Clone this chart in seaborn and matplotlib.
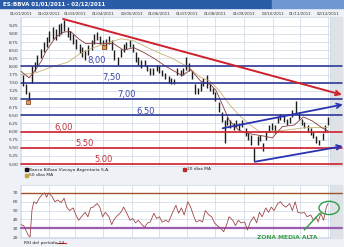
import numpy as np
import pandas as pd
import matplotlib
matplotlib.use("Agg")
import matplotlib.pyplot as plt
import seaborn as sns
from matplotlib.patches import Rectangle, Ellipse

# ---------------- data ----------------
days = [2, 5, 9, 12, 15, 18, 22, 25, 28, 31, 35, 38, 41, 44, 47, 51, 54, 57, 60, 64,
        67, 70, 73, 77, 80, 83, 86, 89, 93, 96, 99, 102, 106, 109, 112, 115, 119, 122, 125, 128,
        131, 135, 138, 141, 144, 148, 151, 154, 157, 161, 164, 167, 170, 174, 177, 180, 183, 186, 190, 193,
        196, 199, 203, 206, 209, 212, 216, 219, 222, 225, 228, 232, 235, 238, 241, 245, 248, 251, 254, 258,
        261, 264, 267, 271, 274, 277, 280, 283, 287, 290, 293, 296, 300, 303, 306, 309, 313, 316, 319, 322,
        325, 329, 332, 335]
lows = [7.40, 7.15, 6.95, 7.50, 7.85, 8.05, 8.25, 8.45, 8.60, 8.75, 8.85, 8.80, 8.95, 9.00, 9.10, 8.90, 8.80, 8.70, 8.55, 8.40,
        8.30, 8.20, 8.35, 8.50, 8.70, 8.80, 8.70, 8.55, 8.55, 8.70, 8.50, 8.20, 8.05, 8.30, 8.45, 8.55, 8.60, 8.45, 8.15, 8.05,
        7.95, 8.00, 7.85, 7.75, 7.75, 7.85, 7.80, 7.70, 7.60, 7.50, 7.45, 7.45, 7.75, 7.70, 7.75, 7.90, 7.85, 7.60, 7.15, 7.15,
        7.25, 7.40, 7.35, 7.25, 7.15, 6.95, 6.60, 6.30, 5.65, 6.20, 6.10, 6.05, 6.15, 6.05, 6.15, 5.85, 5.75, 5.60, 5.10, 5.60,
        5.70, 5.40, 5.75, 6.00, 6.05, 5.95, 6.25, 6.35, 6.30, 6.20, 6.25, 6.45, 6.55, 6.40, 6.20, 6.10, 6.00, 5.90, 5.80, 5.65,
        5.60, 5.75, 6.00, 6.20]
highs = [7.75, 7.45, 7.20, 8.00, 8.15, 8.35, 8.55, 8.75, 8.90, 9.10, 9.20, 9.15, 9.30, 9.35, 9.42, 9.20, 9.10, 9.00, 8.85, 8.70,
         8.60, 8.50, 8.65, 8.80, 9.00, 9.05, 8.95, 8.80, 8.85, 8.95, 8.80, 8.50, 8.30, 8.55, 8.70, 8.75, 8.80, 8.70, 8.45, 8.30,
         8.20, 8.20, 8.05, 7.95, 7.95, 8.05, 8.00, 7.90, 7.80, 7.70, 7.65, 7.60, 7.95, 7.90, 7.95, 8.30, 8.10, 7.85, 7.45, 7.35,
         7.50, 7.65, 7.75, 7.45, 7.35, 7.20, 6.90, 6.60, 6.35, 6.45, 6.35, 6.25, 6.35, 6.25, 6.35, 6.10, 5.95, 5.90, 5.50, 5.85,
         5.90, 5.65, 6.00, 6.20, 6.25, 6.20, 6.45, 6.55, 6.50, 6.40, 6.45, 6.65, 6.95, 6.60, 6.40, 6.30, 6.20, 6.10, 6.00, 5.85,
         5.75, 5.95, 6.20, 6.45]

ma20_days = [0, 9, 16, 22, 27, 33, 38, 46, 54, 63, 71, 79, 87, 101, 112, 123, 134, 145, 156, 165,
             176, 185, 196, 207, 213, 220, 227, 237, 246, 256, 267, 274, 285, 298, 308, 318, 329, 335]
ma20_vals = [7.85, 7.65, 7.90, 8.15, 8.45, 8.70, 8.90, 9.05, 9.08, 8.85, 8.70, 8.72, 8.70, 8.70, 8.50, 8.58, 8.43, 8.25, 8.04, 7.89,
             7.72, 7.90, 7.55, 7.44, 7.25, 6.80, 6.35, 6.05, 5.95, 5.90, 5.85, 5.80, 6.15, 6.20, 6.45, 6.32, 6.10, 6.02]

ma50_days = [0, 16, 33, 51, 65, 79, 95, 109, 123, 138, 152, 165, 184, 195, 206, 217, 227, 238, 250, 260,
             272, 285, 299, 310, 321, 335]
ma50_vals = [7.75, 7.80, 7.98, 8.13, 8.40, 8.58, 8.73, 8.85, 8.79, 8.58, 8.40, 8.25, 7.95, 7.68, 7.55, 7.23, 6.84, 6.50, 6.20, 6.00,
             6.00, 6.03, 6.08, 6.12, 6.12, 6.12]

rsi_days = [0, 3, 8, 10, 12, 14, 17, 20, 23, 26, 28, 30, 34, 37, 40, 44, 47, 50, 53, 57,
            60, 63, 66, 70, 73, 76, 79, 83, 86, 89, 92, 96, 99, 101, 104, 109, 112, 115, 119, 122,
            125, 128, 132, 135, 138, 141, 145, 148, 151, 154, 158, 161, 165, 169, 172, 175, 178, 182, 185, 188,
            191, 195, 198, 201, 205, 208, 211, 214, 218, 221, 224, 227, 231, 234, 237, 240, 244, 247, 250, 254,
            257, 260, 263, 267, 270, 273, 276, 280, 283, 286, 289, 293, 296, 299, 302, 306, 309, 312, 316, 319,
            322, 324, 327, 330, 333, 335]
rsi_vals = [34, 33, 22, 20, 50, 60, 58, 64, 68, 70, 65, 70, 66, 60, 62, 59, 64, 54, 50, 53,
            45, 39, 43, 48, 43, 53, 54, 58, 54, 43, 48, 43, 34, 39, 43, 48, 54, 48, 39, 41,
            36, 39, 34, 31, 36, 37, 47, 41, 43, 37, 39, 37, 47, 56, 47, 53, 45, 60, 54, 45,
            37, 39, 37, 50, 45, 43, 36, 33, 30, 26, 33, 43, 39, 33, 39, 36, 37, 28, 37, 43,
            36, 48, 43, 53, 48, 54, 50, 58, 60, 56, 54, 58, 50, 60, 48, 47, 48, 43, 45, 39,
            43, 37, 47, 39, 54, 58]

resist_levels = [8.00, 7.50, 7.00, 6.50]
resist_labels = ["8,00", "7,50", "7,00", "6.50"]
support_levels = [6.00, 5.50, 5.00]
support_labels = ["6,00", "5.50", "5.00"]

month_days = [0, 31, 59, 90, 121, 151, 181, 212, 243, 275, 304, 335]
month_labels = ["01/01/2011", "01/02/2011", "01/03/2011", "01/04/2011", "02/05/2011", "01/06/2011",
                "01/07/2011", "01/08/2011", "01/09/2011", "03/10/2011", "01/11/2011", "02/12/2011"]
price_ticks = [5.00, 5.25, 5.50, 5.75, 6.00, 6.25, 6.50, 6.75, 7.00, 7.25, 7.50, 7.75,
               8.00, 8.25, 8.50, 8.75, 9.00, 9.25]
rsi_ticks = [20, 30, 40, 50, 60, 70]

event_days = [8, 91]
event_prices = [6.91, 8.60]

# ---------------- style ----------------
sns.set_theme(style="whitegrid")
plt.rcParams["font.family"] = ["DejaVu Sans"]

BLUE = "#1f2a8f"
BLUE_TXT = "#3a46a8"
RED = "#d0202c"
RED_TXT = "#c4303a"
GRID = "#cbd7e6"

fig = plt.figure(figsize=(3.44, 2.47), dpi=100, facecolor="#eef1f5")

# title bar
fig.patches.append(Rectangle((0, 1 - 8 / 247), 272 / 344, 8 / 247, transform=fig.transFigure,
                             color="#2b5ca8", zorder=-2))
fig.patches.append(Rectangle((272 / 344, 1 - 8 / 247), 72 / 344, 8 / 247, transform=fig.transFigure,
                             color="#6f98d2", zorder=-2))
fig.text(3 / 344, 1 - 4.2 / 247, "ES:BBVA 01/01/2011 - 02/12/2011", color="white",
         fontsize=4, fontweight="bold", va="center", ha="left")

# right gray strip (behind axes content)
fig.patches.append(Rectangle((330 / 344, (247 - 166) / 247), 12 / 344, 149 / 247,
                             transform=fig.transFigure, color="#dfe3e8", zorder=-2))
fig.patches.append(Rectangle((330 / 344, (247 - 238) / 247), 12 / 344, 53 / 247,
                             transform=fig.transFigure, color="#dfe3e8", zorder=-2))

XL = (-1, 337)

# ---------------- main panel ----------------
ax = fig.add_axes([20 / 344, (247 - 166) / 247, 310 / 344, 149 / 247])
ax.set_facecolor("white")
ax.set_xlim(*XL)
ax.set_ylim(4.94, 9.52)

ax.vlines(days, lows, highs, color="#1c1c1c", lw=1.0, zorder=3)

df20 = pd.DataFrame({"day": ma20_days, "val": ma20_vals})
df50 = pd.DataFrame({"day": ma50_days, "val": ma50_vals})
sns.lineplot(data=df50, x="day", y="val", ax=ax, color="#c8b070", lw=0.6, zorder=4)
sns.lineplot(data=df20, x="day", y="val", ax=ax, color="#8a3a3a", lw=0.6, zorder=4)

ax.scatter(event_days, event_prices, marker="s", s=9, facecolor="#e59a5a",
           edgecolor="#7a3a10", linewidth=0.5, zorder=6)

x_end = 350
for lvl in resist_levels:
    ax.plot([0, x_end], [lvl, lvl], color=BLUE, lw=1.1, zorder=5, clip_on=False)
for lvl in support_levels:
    ax.plot([0, x_end], [lvl, lvl], color=RED, lw=1.2, zorder=5, clip_on=False)

label_pos = [(83, 8.17), (99, 7.67), (115, 7.15), (136, 6.61)]
for (lx, ly), t in zip(label_pos, resist_labels):
    ax.text(lx, ly, t, color=BLUE_TXT, fontsize=6, ha="center", va="center", zorder=7)
label_pos2 = [(47, 6.12), (69, 5.62), (90, 5.15)]
for (lx, ly), t in zip(label_pos2, support_labels):
    ax.text(lx, ly, t, color=RED_TXT, fontsize=6, ha="center", va="center", zorder=7)

def trend(ax, p0, p1, color, lw):
    ax.annotate("", xy=p1, xytext=p0, annotation_clip=False, zorder=8,
                arrowprops=dict(arrowstyle="->", color=color, lw=lw, mutation_scale=8,
                                shrinkA=0, shrinkB=0))

trend(ax, (46, 9.46), (350, 7.13), RED, 1.4)
trend(ax, (220, 6.10), (351, 6.83), "#2a33b0", 1.3)
trend(ax, (255, 5.07), (351, 5.55), "#2a33b0", 1.3)

ax.set_xticks(month_days)
ax.set_xticklabels(month_labels)
ax.xaxis.tick_top()
ax.set_yticks(price_ticks)
ax.set_yticklabels([f"{v:.2f}".replace(".", ",") for v in price_ticks])
ax.tick_params(axis="both", length=0, labelsize=3.2, colors="#333333", pad=1)
ax.tick_params(axis="x", labelsize=2.9)
ax.grid(True, color=GRID, lw=0.5)
ax.set_xlabel("")
ax.set_ylabel("")
for s in ax.spines.values():
    s.set_color(GRID)
    s.set_linewidth(0.5)

# legend
def legend_item(xpx, ypx, color, text):
    fig.patches.append(Rectangle(((xpx - 1.5) / 344, (247 - ypx - 1.5) / 247), 3 / 344, 3 / 247,
                                 transform=fig.transFigure, color=color, zorder=5))
    fig.text((xpx + 3) / 344, (247 - ypx) / 247, text, fontsize=3.2, va="center", ha="left", color="#222222")

legend_item(26, 169.5, "#111111", "Banco Bilbao Vizcaya Argentaria S.A.")
legend_item(26, 175, "#c8a040", "50 días MA")
legend_item(184, 169.5, "#c0282d", "20 días MA")

# ---------------- RSI panel ----------------
ax2 = fig.add_axes([20 / 344, (247 - 238) / 247, 310 / 344, 53 / 247])
ax2.set_facecolor("white")
ax2.set_xlim(*XL)
ax2.set_ylim(18.9, 79)
dfr = pd.DataFrame({"day": rsi_days, "rsi": rsi_vals})
sns.lineplot(data=dfr, x="day", y="rsi", ax=ax2, color="#a04848", lw=0.6, zorder=4)
ax2.plot([0, x_end], [70, 70], color="#a0522d", lw=1.0, zorder=3, clip_on=False)
ax2.plot([0, x_end], [30, 30], color="#9c5cb2", lw=1.6, zorder=3, clip_on=False)

ax2.set_xticks(month_days)
ax2.set_xticklabels([])
ax2.set_yticks(rsi_ticks)
ax2.set_yticklabels([str(v) for v in rsi_ticks])
ax2.tick_params(axis="both", length=0, labelsize=3.2, colors="#333333", pad=1)
ax2.grid(True, color=GRID, lw=0.5)
ax2.set_xlabel("")
ax2.set_ylabel("")
for s in ax2.spines.values():
    s.set_color(GRID)
    s.set_linewidth(0.5)

GREEN = "#2e9e44"
ax2.add_patch(Ellipse((336, 53), 22, 15, fill=False, edgecolor=GREEN, lw=1.0, clip_on=False, zorder=6))
ax2.plot([326, 309], [47, 28], color=GREEN, lw=1.0, zorder=6, clip_on=False)
ax2.text(290, 20, "ZONA MEDIA ALTA", color="#3aa04a", fontsize=4.3, fontweight="bold",
         ha="center", va="center", zorder=7, clip_on=False)

fig.text(24 / 344, (247 - 242.5) / 247, "RSI del período 14", fontsize=3.2, va="center",
         ha="left", color="#222222")
fig.lines.append(plt.Line2D([57 / 344, 66 / 344], [(247 - 242.5) / 247] * 2,
                            transform=fig.transFigure, color="#d0202c", lw=0.8))

fig.savefig("out.png", dpi=100, facecolor=fig.get_facecolor())
